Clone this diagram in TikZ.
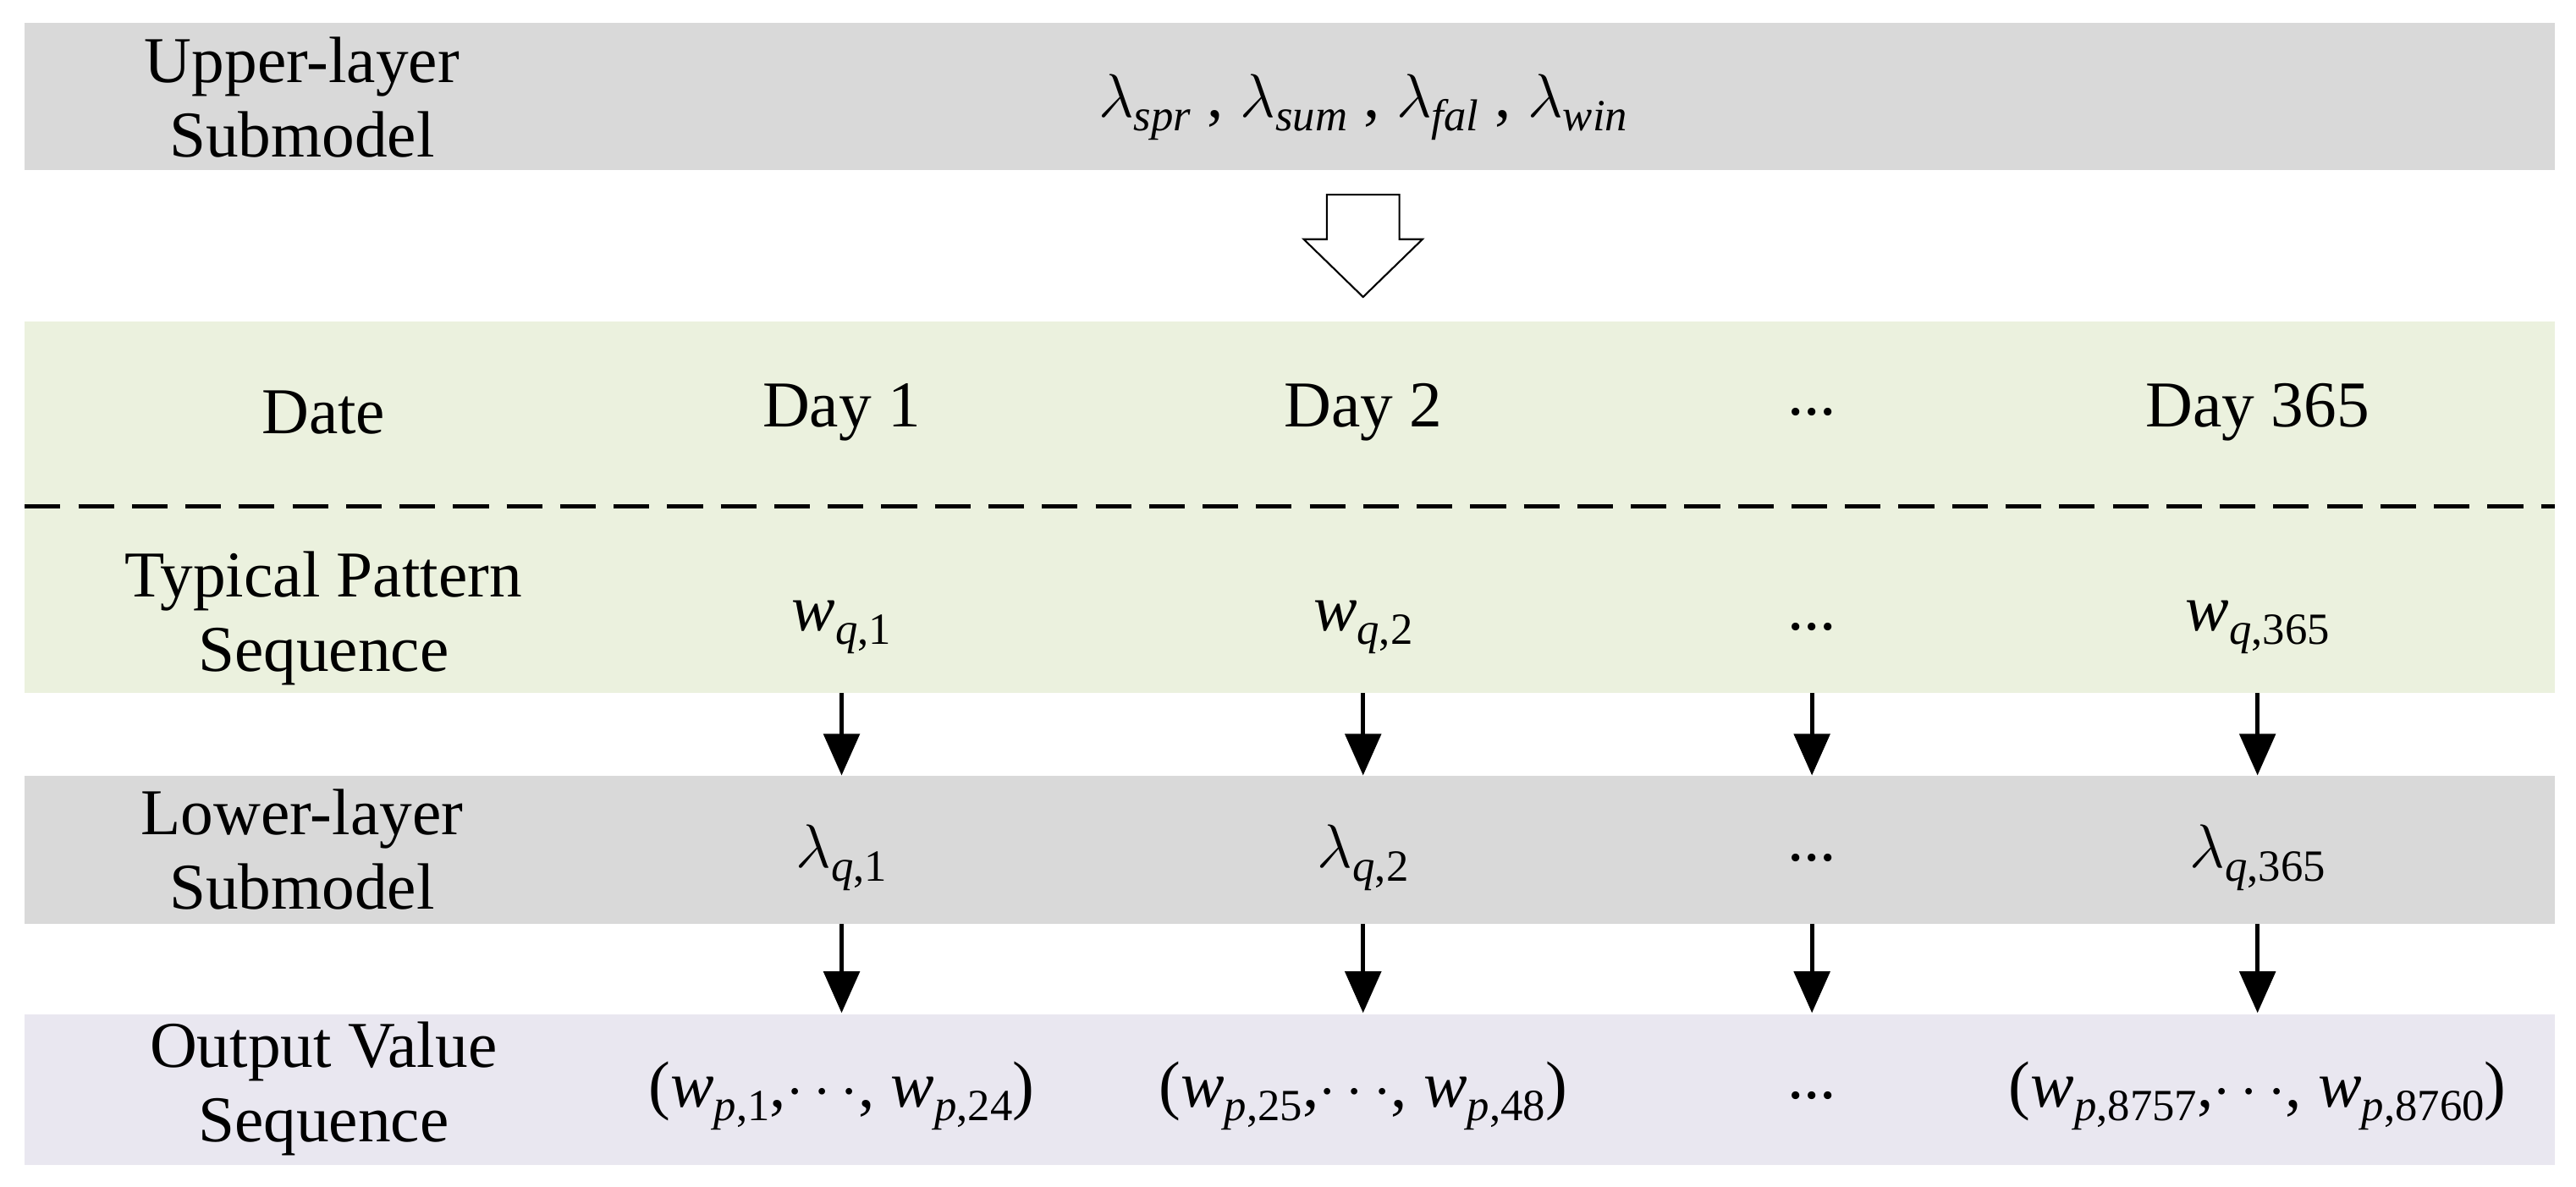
\documentclass[tikz,border=0pt]{standalone}
\usepackage{fontspec}
\setmainfont{Liberation Serif}
\usepackage{tikz}
\usetikzlibrary{arrows.meta, positioning}
\definecolor{bandgray}{RGB}{217,217,217}
\definecolor{bandgreen}{RGB}{235,241,222}
\definecolor{bandlilac}{RGB}{233,231,240}
\newcommand{\skipdots}{...}
\newcommand{\isub}[2]{\textit{#1}\raisebox{-0.45ex}{\fontsize{15}{16}\selectfont #2}}
\newcommand{\lsub}[2]{$\lambda$\raisebox{-0.45ex}{\fontsize{15}{16}\selectfont #2}}
\tikzset{
  lbl/.style={font=\fontsize{22}{25}\selectfont, align=center},
  down/.style={-{Triangle[length=14pt, width=12pt]}, line width=1.5pt}
}
\begin{document}
\begin{tikzpicture}[x=0.0195cm, y=-0.0195cm]
  \useasboundingbox (0,0) rectangle (1561,719);
  % Bands
  \fill[bandgray] (15,14) rectangle (1548,103);
  \fill[bandgreen] (15,195) rectangle (1548,420);
  \fill[bandgray] (15,470) rectangle (1548,560);
  \fill[bandlilac] (15,615) rectangle (1548,706);
  \draw[line width=1.5pt, dash pattern=on 12pt off 6pt] (15,307) -- (1548,307);

  % Upper layer
  \node[lbl] (upper) at (183,59) {Upper-layer\\Submodel};
  \node[lbl] (lam) at (826,65) {\lsub{}{\textit{spr}} , \lsub{}{\textit{sum}} , \lsub{}{\textit{fal}} , \lsub{}{\textit{win}}};
  \draw[fill=white, line width=0.6pt] (804,118) -- (848,118) -- (848,145) -- (862,145)
    -- (826,180) -- (790,145) -- (804,145) -- cycle;

  % Row labels
  \node[lbl] (date) at (196,250) {Date};
  \node[lbl] (typ) at (196,375) {Typical Pattern\\Sequence};
  \node[lbl] (low) at (183,515) {Lower-layer\\Submodel};
  \node[lbl] (out) at (196,660) {Output Value\\Sequence};

  % Columns
  \foreach \n/\x/\d/\w/\l/\o in {
      a/510/Day 1/{\isub{w}{\textit{q},1}}/{\lsub{}{\textit{q},1}}/{(\isub{w}{\textit{p},1},$\cdots$, \isub{w}{\textit{p},24})},
      b/826/Day 2/{\isub{w}{\textit{q},2}}/{\lsub{}{\textit{q},2}}/{(\isub{w}{\textit{p},25},$\cdots$, \isub{w}{\textit{p},48})},
      c/1098/\skipdots/\skipdots/\skipdots/\skipdots,
      d/1368/Day 365/{\isub{w}{\textit{q},365}}/{\lsub{}{\textit{q},365}}/{(\isub{w}{\textit{p},8757},$\cdots$, \isub{w}{\textit{p},8760})}} {
    \node[lbl] (day\n) at (\x,250) {\d};
    \node[lbl] (w\n) at (\x,380) {\w};
    \node[lbl] (l\n) at (\x,520) {\l};
    \node[lbl] (o\n) at (\x,664) {\o};
    \coordinate (t1\n) at (\x,420);
    \coordinate (h1\n) at (\x,470);
    \coordinate (t2\n) at (\x,560);
    \coordinate (h2\n) at (\x,614);
    \draw[down] (t1\n) -- (h1\n);
    \draw[down] (t2\n) -- (h2\n);
  }
\end{tikzpicture}
\end{document}
